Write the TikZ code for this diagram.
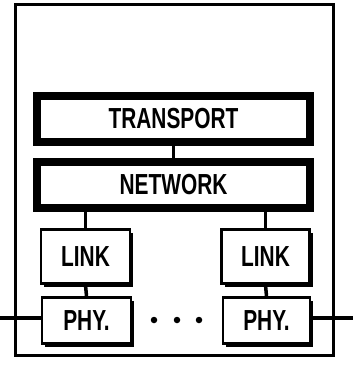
\documentclass[tikz,border=0pt]{standalone}
\usepackage{fontspec}
\setmainfont{Liberation Sans}[FakeStretch=0.72]
\usetikzlibrary{shadows}
\begin{document}
\begin{tikzpicture}[x=1pt,y=-1pt,
  lbl/.style={font=\fontsize{29}{32}\selectfont\bfseries},
  thickbox/.style={draw,line width=8pt,rectangle,inner sep=0pt,minimum width=273pt,minimum height=46pt,lbl},
  smallbox/.style={draw,line width=2.8pt,rectangle,inner sep=0pt,lbl,fill=white,
     drop shadow={shadow xshift=3pt,shadow yshift=-3pt,opacity=1,fill=black}},
  wire/.style={line width=3.5pt},
  dot/.style={circle,fill,inner sep=0pt,minimum size=6.5pt}]
\useasboundingbox (0,0) rectangle (353,369);
\draw[line width=3pt] (15,5) rectangle (333,355);
\node[thickbox] (tr) at (173.5,119) {TRANSPORT};
\node[thickbox] (nw) at (173.5,185) {NETWORK};
\node[smallbox,minimum width=89pt,minimum height=54pt] (l1) at (85.5,256.5) {LINK};
\node[smallbox,minimum width=88pt,minimum height=54pt] (l2) at (265.5,256.5) {LINK};
\node[smallbox,minimum width=89pt,minimum height=46pt] (p1) at (86.5,320.5) {PHY.};
\node[smallbox,minimum width=87pt,minimum height=46pt] (p2) at (266.5,320.5) {PHY.};
\node[dot] (d1) at (154,320) {};
\node[dot] (d2) at (177,320) {};
\node[dot] (d3) at (199,320) {};
\coordinate (wl) at (0,318);
\coordinate (wr) at (353,318);
\draw[wire] (tr.south) -- (nw.north);
\draw[wire] (l1.north) -- (l1.north |- nw.south);
\draw[wire] (l2.north) -- (l2.north |- nw.south);
\draw[wire] (l1.south) -- (p1.north);
\draw[wire] (l2.south) -- (p2.north);
\draw[wire] (wl) -- (wl -| p1.west);
\draw[wire] (p2.east |- wr) -- (wr);
\end{tikzpicture}
\end{document}
